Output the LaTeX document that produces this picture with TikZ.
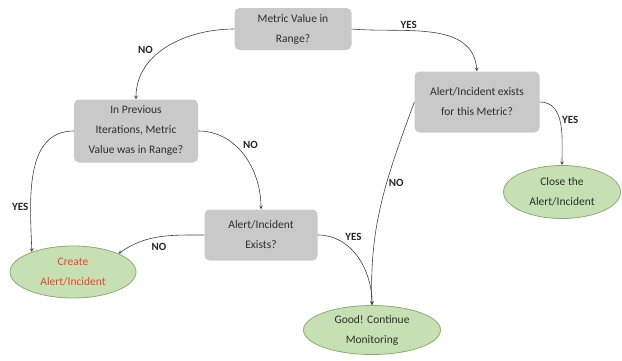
\documentclass[tikz,border=0pt]{standalone}
\usepackage{fontspec}
\setmainfont{Carlito}
\usetikzlibrary{shapes.geometric}
\definecolor{boxgray}{HTML}{C9C9C9}
\definecolor{leafgreen}{HTML}{C6E0B4}
\definecolor{leafline}{HTML}{8EA97A}
\definecolor{alertred}{HTML}{E8472E}
\definecolor{txtgray}{HTML}{2E2E2E}

\begin{document}
\begin{tikzpicture}[x=1pt,y=1pt,>=stealth,
    question/.style={fill=boxgray,rounded corners=5pt,align=center,text=txtgray,
      font=\fontsize{11.5}{20}\selectfont,inner sep=2pt},
    outcome/.style={ellipse,draw=leafline,line width=0.8pt,fill=leafgreen,align=center,
      text=txtgray,font=\fontsize{11.5}{20}\selectfont,inner sep=0pt},
    flow/.style={->,draw=black!75,line width=0.6pt},
    answer/.style={font=\fontsize{11}{13}\selectfont\bfseries,text=black!85,inner sep=2pt}]
     \useasboundingbox (0,0) rectangle (622,-360);
     % decisions
     \node[question,minimum width=117,minimum height=42] (range) at (293,-29) {Metric Value in\\Range?};
     \node[question,minimum width=124,minimum height=63] (previous) at (136,-131) {In Previous\\Iterations, Metric\\Value was in Range?};
     \node[question,minimum width=125,minimum height=61] (metricalert) at (477,-102) {Alert/Incident exists\\for this Metric?};
     \node[question,minimum width=113,minimum height=51] (alertexists) at (261,-235) {Alert/Incident\\Exists?};
     % outcomes
     \node[outcome,minimum width=126,minimum height=52,text=alertred] (create) at (73,-272) {Create\\Alert/Incident};
     \node[outcome,minimum width=117,minimum height=53] (close) at (562,-192) {Close the\\Alert/Incident};
     \node[outcome,minimum width=137,minimum height=49] (good) at (372,-330) {Good! Continue\\Monitoring};
     % connectors
     \draw[flow] (range.west) to[out=180,in=90] node[answer,pos=0.62,above left]{NO} (previous.north);
     \draw[flow] (range.east) to[out=-5,in=95] node[answer,pos=0.35,above]{YES} (metricalert.north);
     \draw[flow] (previous.west) to[out=180,in=92] node[answer,pos=0.72,left]{YES} (create.154);
     \draw[flow] (previous.east) to[out=0,in=90] node[answer,pos=0.45,above right]{NO} (alertexists.north);
     \draw[flow] (alertexists.west) to[out=180,in=35] node[answer,pos=0.5,below=4pt]{NO} (create.22);
     \draw[flow] (alertexists.east) to[out=0,in=90] node[answer,pos=0.28,above right]{YES} (good.north);
     \draw[flow] (metricalert.west) to[out=250,in=92] node[answer,pos=0.4,right]{NO} (good.north);
     \draw[flow] (metricalert.east) to[out=0,in=90] node[answer,pos=0.45,right]{YES} (close.north);
\end{tikzpicture}
\end{document}
